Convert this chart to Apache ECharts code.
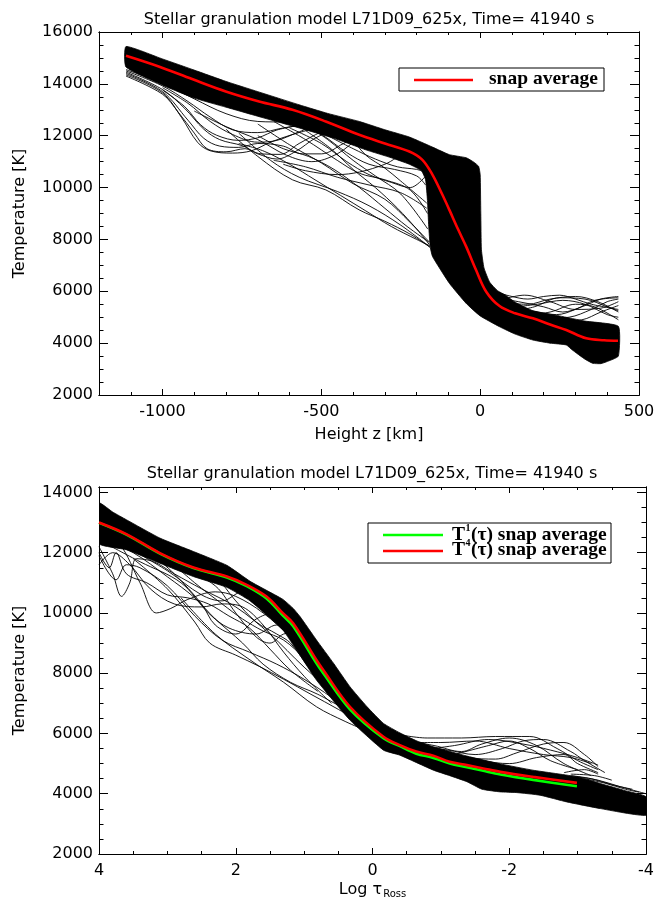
<!DOCTYPE html>
<html>
<head>
<meta charset="utf-8">
<script src="https://cdn.jsdelivr.net/npm/echarts@6/dist/echarts.min.js"></script>
<style>
  html, body { margin: 0; padding: 0; background: #fff; }
  #chart { width: 670px; height: 904px; }
</style>
</head>
<body>
<div id="chart"></div>
<script>
// ---------- Upper panel: temperature against geometric height ----------
const heightLabels = [-1000, -500, 0, 500];
const heightMinor = [-1100, -900, -800, -700, -600, -400, -300, -200, -100, 100, 200, 300, 400];
const tempLabelsTop = [2000, 4000, 6000, 8000, 10000, 12000, 14000, 16000];
const tempMinorTop = [2500, 3000, 3500, 4500, 5000, 5500, 6500, 7000, 7500, 8500, 9000, 9500,
  10500, 11000, 11500, 12500, 13000, 13500, 14500, 15000, 15500];

// snapshot average T(z)
const avgByHeight = [[-1115, 15085], [-1012, 14672], [-907, 14185], [-801, 13707], [-696, 13321],
  [-591, 13000], [-486, 12548], [-381, 12035], [-300, 11700], [-223, 11390], [-182, 11069],
  [-150, 10490], [-120, 9750], [-97, 9139], [-70, 8400], [-44, 7722], [-13, 6822], [19, 5985],
  [61, 5430], [110, 5150], [166, 4958], [220, 4720], [271, 4506], [334, 4185], [390, 4110], [434, 4093]];

// outline of the densely packed bundle of columns
const heightBundleTop = [[-1115, 15440], [-1000, 14960], [-900, 14530], [-800, 14093], [-700, 13700],
  [-570, 13193], [-480, 12860], [-380, 12548], [-300, 12230], [-223, 11950], [-150, 11560], [-97, 11270],
  [-44, 11150], [-20, 10980], [-5, 10820], [0, 10500], [2, 9000], [4, 7600], [12, 6900], [30, 6350],
  [55, 6020], [80, 5850], [110, 5580], [166, 5250], [250, 5050], [330, 4850], [435, 4650]];
const heightBundleBottom = [[-1115, 14650], [-1000, 13950], [-900, 13450], [-800, 13100], [-700, 12750],
  [-570, 12300], [-460, 11900], [-360, 11456], [-280, 11150], [-223, 10900], [-185, 10650], [-172, 10300],
  [-166, 9500], [-162, 8500], [-157, 7700], [-150, 7340], [-97, 6310], [-44, 5533], [0, 5050], [61, 4633],
  [110, 4350], [166, 4120], [220, 4000], [271, 3930], [290, 3737], [330, 3380], [355, 3220], [380, 3210],
  [398, 3282], [435, 3500]];

// individual columns that leave the bundle
const colDipA = [[-1115, 14350], [-1000, 13650], [-940, 12700], [-890, 11750], [-850, 11420], [-780, 11330],
  [-720, 11420], [-660, 11750], [-590, 12050], [-500, 12350]];
const colDipB = [[-1115, 14450], [-1000, 13780], [-930, 13050], [-870, 12250], [-820, 11850], [-750, 11620],
  [-690, 11300], [-630, 11280], [-570, 11700], [-500, 12150], [-430, 12500]];
const colDipC = [[-1000, 13850], [-920, 13250], [-850, 12550], [-780, 12050], [-700, 11750], [-640, 11820],
  [-580, 12100], [-500, 12500]];
const colDipD = [[-900, 12950], [-800, 12350], [-700, 11850], [-610, 11250], [-530, 11000], [-450, 11300],
  [-380, 11900], [-320, 12100]];
const colDipE = [[-1115, 14300], [-1000, 13600], [-950, 12900], [-900, 12100], [-860, 11500], [-800, 11380],
  [-740, 11500], [-700, 11300], [-640, 11100], [-580, 11400], [-520, 11900], [-450, 12300]];
const colDipF = [[-1115, 14400], [-1000, 13700], [-920, 12600], [-870, 11900], [-820, 11600], [-760, 11550],
  [-700, 11700], [-620, 11600], [-560, 11300], [-500, 11300], [-430, 11700], [-360, 12100]];
const colUpA = [[-1115, 14550], [-1000, 14020], [-900, 13420], [-800, 12850], [-700, 12550], [-600, 12520], [-500, 12420]];
const colUpB = [[-1115, 14500], [-1000, 13920], [-920, 13320], [-850, 12720], [-780, 12230], [-700, 12120],
  [-620, 12300], [-540, 12450]];
const colUpC = [[-1000, 13760], [-930, 13120], [-880, 12420], [-830, 12020], [-760, 11820], [-700, 11920],
  [-640, 12220], [-560, 12420]];
const colFanA = [[-800, 12250], [-700, 11200], [-591, 10300], [-486, 9910], [-381, 9140], [-300, 8700], [-220, 8200], [-158, 7700]];
const colFanB = [[-760, 12100], [-660, 11050], [-570, 10400], [-450, 9850], [-350, 9300], [-250, 8550], [-158, 7700]];
const colFanC = [[-700, 12450], [-600, 11650], [-500, 10950], [-400, 10150], [-300, 9550], [-220, 8650], [-160, 7900]];
const colFanD = [[-650, 12550], [-550, 11850], [-450, 11050], [-380, 10550], [-300, 10300], [-220, 9900], [-166, 9000]];
const colFanE = [[-600, 12650], [-500, 12050], [-420, 11350], [-350, 10900], [-270, 10700], [-200, 10450], [-172, 10100]];
const colFanF = [[-560, 12500], [-480, 11850], [-400, 11050], [-330, 10450], [-250, 9750], [-165, 8400]];
const colFanG = [[-500, 12450], [-420, 12050], [-360, 11250], [-300, 10750], [-250, 10250], [-168, 9400]];
const colFanH = [[-650, 11050], [-550, 10800], [-450, 10400], [-350, 10100], [-250, 9800], [-168, 9200]];
const colMidA = [[-600, 12300], [-500, 11700], [-420, 11000], [-350, 10500], [-280, 10200], [-220, 10000], [-175, 10400]];
const colMidB = [[-550, 12200], [-470, 11500], [-400, 10700], [-330, 10000], [-260, 9200], [-200, 8400], [-160, 7800]];
const colMidC = [[-700, 12000], [-620, 11500], [-540, 11200], [-460, 10700], [-380, 10000], [-300, 9200], [-230, 8500], [-162, 7900]];
const colMidD = [[-480, 12000], [-400, 11500], [-330, 11100], [-260, 10800], [-200, 10700], [-175, 10600]];
const colMidE = [[-760, 11700], [-680, 11400], [-600, 10900], [-520, 10300], [-440, 9700], [-360, 9100], [-280, 8500],
  [-200, 8000], [-158, 7750]];
const colRise = [[-620, 10900], [-550, 10650], [-450, 10500], [-380, 10600], [-300, 10900], [-230, 11300], [-180, 11000]];
const colMeshA = [[40, 6000], [100, 5800], [150, 5700], [200, 5800], [250, 5850], [300, 5700], [350, 5500], [435, 5300]];
const colMeshB = [[50, 5750], [120, 5600], [200, 5400], [260, 5200], [320, 5400], [380, 5700], [435, 5800]];
const colMeshC = [[60, 5550], [150, 5500], [220, 5700], [300, 5800], [370, 5600], [435, 5200]];
const colMeshD = [[70, 5450], [160, 5250], [240, 5100], [300, 5300], [360, 5650], [435, 5750]];
const colMeshE = [[80, 5350], [180, 5500], [260, 5650], [330, 5500], [400, 5100], [435, 5000]];
const colMeshF = [[100, 5150], [200, 4950], [280, 5000], [350, 5300], [400, 5600], [435, 5700]];
const colMeshG = [[120, 5050], [220, 5200], [300, 5500], [360, 5400], [435, 4900]];
const colMeshH = [[150, 5000], [250, 4850], [320, 4900], [380, 5200], [435, 5450]];
const colMeshI = [[60, 5650], [140, 5850], [220, 5600], [300, 5300], [380, 5350], [435, 5600]];
const colMeshJ = [[90, 5200], [170, 5400], [250, 5750], [330, 5700], [400, 5400], [435, 5250]];

// ---------- Lower panel: temperature against Rosseland optical depth ----------
const tauLabels = [4, 2, 0, -2, -4];
const tauMinor = [3.5, 3, 2.5, 1.5, 1, 0.5, -0.5, -1, -1.5, -2.5, -3, -3.5];
const tempLabelsBottom = [2000, 4000, 6000, 8000, 10000, 12000, 14000];
const tempMinorBottom = [2500, 3000, 3500, 4500, 5000, 5500, 6500, 7000, 7500, 8500, 9000, 9500,
  10500, 11000, 11500, 12500, 13000, 13500];

// T^1 and T^4 averages on surfaces of constant optical depth
const avgT1 = [[4, 12990], [3.6, 12600], [3.11, 11970], [2.62, 11490], [2.13, 11180], [1.84, 10890],
  [1.55, 10480], [1.31, 9910], [1.16, 9560], [0.82, 8330], [0.72, 8000], [0.33, 6800], [-0.16, 5840],
  [-0.4, 5580], [-0.64, 5330], [-0.89, 5190], [-1.13, 5000], [-1.38, 4880], [-1.62, 4760], [-1.87, 4640],
  [-2.35, 4460], [-2.99, 4250]];
const avgT4 = [[4, 13004], [3.6, 12618], [3.11, 11987], [2.62, 11508], [2.13, 11209], [1.84, 10933],
  [1.55, 10544], [1.31, 9992], [1.16, 9659], [0.82, 8440], [0.72, 8107], [0.33, 6887], [-0.16, 5890],
  [-0.4, 5614], [-0.64, 5400], [-0.89, 5260], [-1.13, 5060], [-1.38, 4950], [-1.62, 4840], [-1.87, 4726],
  [-2.35, 4560], [-2.99, 4360]];

const tauBundleTop = [[4, 13650], [3.8, 13350], [3.6, 13094], [3.11, 12485], [2.62, 12040], [2.13, 11580],
  [1.79, 11050], [1.55, 10750], [1.31, 10450], [1.16, 10150], [1.06, 9880], [0.82, 9104], [0.57, 8330],
  [0.33, 7552], [0.08, 6887], [-0.16, 6335], [-0.4, 6020], [-0.65, 5750], [-0.89, 5560], [-1.38, 5250],
  [-1.87, 4990], [-2.35, 4780], [-3.0, 4560], [-3.33, 4340], [-3.7, 4100], [-4, 3900]];
const tauBundleBottom = [[4, 12300], [3.6, 12097], [3.11, 11650], [2.62, 11209], [2.13, 10850], [1.79, 10400],
  [1.31, 9430], [0.82, 7775], [0.33, 6445], [-0.16, 5447], [-0.4, 5280], [-0.89, 4783], [-1.13, 4600],
  [-1.38, 4400], [-1.6, 4150], [-1.87, 4061], [-2.1, 4040], [-2.45, 3951], [-2.84, 3729], [-3.33, 3508], [-4, 3287]];

const tauColA = [[4, 12200], [3.8, 11300], [3.67, 10550], [3.55, 11000], [3.45, 11800], [3.2, 11700], [2.9, 11300],
  [2.5, 10800], [2.0, 10200], [1.5, 9300], [1.0, 8200], [0.5, 7200], [0.2, 6600]];
const tauColB = [[4, 12800], [3.7, 12300], [3.4, 11000], [3.16, 10000], [2.95, 10150], [2.7, 10450], [2.3, 10700],
  [2.0, 10550], [1.6, 10000], [1.2, 9200], [0.8, 8300], [0.4, 7300]];
const tauColC = [[4, 11900], [3.75, 11100], [3.6, 11600], [3.4, 11500], [3.0, 10900], [2.6, 9900], [2.2, 9100],
  [1.8, 8700], [1.4, 8300], [1.0, 7800], [0.6, 7200], [0.2, 6500]];
const tauColD = [[4, 12500], [3.5, 12000], [3.0, 11200], [2.6, 10500], [2.3, 9800], [1.9, 9000], [1.6, 8300],
  [1.2, 7700], [0.8, 7300], [0.4, 6800]];
const tauColE = [[3.9, 12300], [3.4, 11700], [2.8, 11000], [2.4, 10000], [2.1, 9500], [1.7, 9300], [1.4, 9600],
  [1.1, 9400], [0.8, 8700]];
const tauColF = [[3.6, 12200], [3.0, 11400], [2.5, 10600], [2.2, 10400], [1.9, 10700], [1.6, 10500], [1.3, 9800], [1.0, 8900]];
const tauColG = [[3.3, 12000], [2.8, 11500], [2.3, 10900], [2.0, 10000], [1.7, 9200], [1.5, 9000], [1.3, 9300],
  [1.0, 9400], [0.7, 8600]];
const tauColH = [[3.0, 11800], [2.6, 11000], [2.2, 10300], [1.9, 9800], [1.6, 9400], [1.3, 9100], [1.0, 8500], [0.6, 7600]];
const tauColI = [[2.8, 11400], [2.4, 11100], [2.0, 10800], [1.7, 10300], [1.4, 9900], [1.1, 9300], [0.8, 8300]];
const tauColJ = [[2.5, 11200], [2.1, 10900], [1.8, 10500], [1.5, 10000], [1.2, 9600], [0.9, 9200], [0.6, 8000]];
const tauColK = [[3.5, 11800], [3.0, 10800], [2.6, 9700], [2.38, 9000], [2.0, 8600], [1.65, 8220], [1.3, 7800],
  [0.9, 7300], [0.5, 6800], [0.2, 6400]];
const tauColL = [[2.8, 10500], [2.3, 9300], [1.79, 8440], [1.3, 7700], [0.82, 6887], [0.4, 6400], [0.1, 6100]];
const tauColM = [[4, 12000], [3.85, 11500], [3.75, 12000], [3.6, 11300], [3.3, 11000], [3.0, 10600], [2.7, 10500],
  [2.4, 10300], [2.1, 9900], [1.8, 9500], [1.5, 8800], [1.2, 8100], [0.8, 7400]];
const tauColN = [[4, 11600], [3.8, 12000], [3.55, 11600], [3.25, 10800], [2.9, 10300], [2.5, 10200], [2.2, 10300],
  [1.9, 10200], [1.6, 9600], [1.3, 8700], [1.0, 7900], [0.6, 7000]];
const tauColO = [[3.2, 11900], [2.9, 11300], [2.5, 10300], [2.3, 9600], [2.0, 9300], [1.7, 9800], [1.45, 10000],
  [1.2, 9500], [0.9, 8700]];
const tauColP = [[2.6, 11500], [2.3, 11200], [2.0, 10400], [1.7, 9700], [1.4, 9300], [1.2, 9000], [0.9, 8100], [0.6, 7400]];
const tauColQ = [[3.8, 12700], [3.3, 12200], [2.9, 11700], [2.4, 11300], [2.0, 11000], [1.7, 10700], [1.5, 10300], [1.2, 9700]];
const tauMeshA = [[-0.3, 6000], [-0.8, 5850], [-1.3, 5850], [-1.8, 5900], [-2.3, 5900], [-2.7, 5500], [-3.0, 5100], [-3.3, 4800]];
const tauMeshB = [[-0.4, 5800], [-0.9, 5600], [-1.3, 5400], [-1.6, 5650], [-2.0, 5850], [-2.4, 5600], [-2.8, 5000], [-3.2, 4600]];
const tauMeshC = [[-0.6, 5600], [-1.1, 5450], [-1.5, 5300], [-1.9, 5500], [-2.2, 5750], [-2.5, 5800], [-2.9, 5400],
  [-3.1, 5100], [-3.4, 4700]];
const tauMeshD = [[-0.8, 5500], [-1.4, 5200], [-1.8, 5150], [-2.1, 5350], [-2.5, 5650], [-2.8, 5700], [-3.1, 5300], [-3.3, 4900]];
const tauMeshE = [[-1.0, 5400], [-1.6, 5100], [-2.0, 5000], [-2.4, 5200], [-2.8, 5300], [-3.0, 5000], [-3.3, 4700]];
const tauMeshF = [[-1.2, 5300], [-1.7, 5600], [-2.0, 5750], [-2.3, 5500], [-2.6, 5100], [-3.0, 4800]];
const tauMeshG = [[-0.5, 5700], [-1.0, 5700], [-1.5, 5750], [-2.0, 5500], [-2.5, 5300], [-2.9, 5200], [-3.2, 5000]];
const tauMeshH = [[-0.7, 5450], [-1.2, 5600], [-1.7, 5800], [-2.2, 5650], [-2.6, 5450], [-3.0, 5200], [-3.3, 4950]];
const tauTailA = [[-3.0, 4560], [-3.3, 4450], [-3.6, 4250], [-4, 4000]];
const tauTailB = [[-3.1, 4500], [-3.4, 4350], [-3.7, 4150], [-3.9, 4050]];
const tauTailC = [[-2.9, 4600], [-3.2, 4500], [-3.5, 4300], [-3.8, 4150]];
const tauTailD = [[-2.8, 4700], [-3.1, 4800], [-3.3, 4650]];
const tauTailE = [[-2.9, 4650], [-3.25, 4600], [-3.5, 4450]];

const titleText = 'Stellar granulation model L71D09_625x, Time= 41940 s';

// ---------- helpers ----------
const SANS = 'DejaVu Sans';
const SERIF = 'Liberation Serif';
const tickFont = { fontFamily: SANS, fontSize: 16, color: '#000' };

function frameAxis(grid, position, min, max, inverse, values, len, extra) {
  const ax = {
    type: 'value', gridIndex: grid, position, min, max, inverse: !!inverse,
    axisLine: { show: true, onZero: false, lineStyle: { color: '#000', width: 1 } },
    splitLine: { show: false },
    axisTick: { show: true, inside: true, length: len, customValues: values, lineStyle: { color: '#000', width: 1 } },
    axisLabel: { show: false }
  };
  return Object.assign(ax, extra || {});
}

function xAxesFor(grid, min, max, inverse, labels, minor, majLen, minLen, nameExtra) {
  return [
    frameAxis(grid, 'bottom', min, max, inverse, labels, majLen, Object.assign({
      axisLabel: { show: true, customValues: labels, margin: 9, formatter: v => String(v), ...tickFont }
    }, nameExtra)),
    frameAxis(grid, 'bottom', min, max, inverse, minor, minLen),
    frameAxis(grid, 'top', min, max, inverse, labels, majLen),
    frameAxis(grid, 'top', min, max, inverse, minor, minLen)
  ];
}

function yAxesFor(grid, min, max, labels, minor, majLen, minLen) {
  return [
    frameAxis(grid, 'left', min, max, false, labels, majLen, {
      axisLabel: { show: true, customValues: labels, margin: 6, formatter: v => String(v), ...tickFont },
      name: 'Temperature [K]', nameLocation: 'middle', nameGap: 71, nameRotate: 90,
      nameTextStyle: { fontFamily: SANS, fontSize: 16, color: '#000' }
    }),
    frameAxis(grid, 'left', min, max, false, minor, minLen),
    frameAxis(grid, 'right', min, max, false, labels, majLen),
    frameAxis(grid, 'right', min, max, false, minor, minLen)
  ];
}

function column(data, xi, yi) {
  return {
    type: 'line', xAxisIndex: xi, yAxisIndex: yi, data, symbol: 'none', smooth: 0.35,
    lineStyle: { color: '#000', width: 0.9 }, silent: true, animation: false, z: 3
  };
}

function bundle(top, bottom, xi, yi) {
  const outline = top.concat(bottom.slice().reverse());
  return {
    type: 'custom', xAxisIndex: xi, yAxisIndex: yi, data: [outline[0]], clip: true, silent: true,
    animation: false, z: 2,
    renderItem: (params, api) => ({
      type: 'polygon',
      shape: { points: outline.map(p => api.coord(p)), smooth: 0.15 },
      style: { fill: '#000', stroke: '#000', lineWidth: 0.8 }
    })
  };
}

function average(data, color, xi, yi, z) {
  return {
    type: 'line', xAxisIndex: xi, yAxisIndex: yi, data, symbol: 'none', smooth: 0.35,
    lineStyle: { color, width: 2.6 }, silent: true, animation: false, z
  };
}

const heightColumns = [colDipA, colDipB, colDipC, colDipD, colDipE, colDipF, colUpA, colUpB, colUpC,
  colFanA, colFanB, colFanC, colFanD, colFanE, colFanF, colFanG, colFanH, colMidA, colMidB, colMidC, colMidD,
  colMidE, colRise, colMeshA, colMeshB, colMeshC, colMeshD, colMeshE, colMeshF, colMeshG, colMeshH, colMeshI, colMeshJ];
const tauColumns = [tauColA, tauColB, tauColC, tauColD, tauColE, tauColF, tauColG, tauColH, tauColI, tauColJ,
  tauColK, tauColL, tauColM, tauColN, tauColO, tauColP, tauColQ, tauMeshA, tauMeshB, tauMeshC, tauMeshD,
  tauMeshE, tauMeshF, tauMeshG, tauMeshH, tauTailA, tauTailB, tauTailC, tauTailD, tauTailE];

const chart = echarts.init(document.getElementById('chart'), null, { renderer: 'canvas' });

chart.setOption({
  backgroundColor: '#fff',
  animation: false,
  grid: [
    { left: 99, right: 31, top: 32, height: 363 },
    { left: 99, right: 24, top: 487, height: 367 }
  ],
  xAxis: [
    ...xAxesFor(0, -1200, 500, false, heightLabels, heightMinor, 6, 3, {
      name: 'Height z [km]', nameLocation: 'middle', nameGap: 32,
      nameTextStyle: { fontFamily: SANS, fontSize: 16, color: '#000' }
    }),
    ...xAxesFor(1, -4, 4, true, tauLabels, tauMinor, 6, 3, {
      name: '{a|Log τ}{b|Ross}', nameLocation: 'middle', nameGap: 26,
      nameTextStyle: {
        rich: {
          a: { fontFamily: SANS, fontSize: 16, color: '#000' },
          b: { fontFamily: SANS, fontSize: 10, color: '#000', padding: [9, 0, 0, 1] }
        }
      }
    })
  ],
  yAxis: [
    ...yAxesFor(0, 2000, 16000, tempLabelsTop, tempMinorTop, 9, 4.5),
    ...yAxesFor(1, 2000, 14180, tempLabelsBottom, tempMinorBottom, 9, 4.5)
  ],
  series: [
    bundle(heightBundleTop, heightBundleBottom, 0, 0),
    ...heightColumns.map(c => column(c, 0, 0)),
    average(avgByHeight, '#ff0000', 0, 0, 6),
    bundle(tauBundleTop, tauBundleBottom, 4, 4),
    ...tauColumns.map(c => column(c, 4, 4)),
    average(avgT1, '#00ff00', 4, 4, 6),
    average(avgT4, '#ff0000', 4, 4, 7)
  ],
  graphic: [
    { type: 'text', x: 369, y: 20, z: 50,
      style: { text: titleText, fill: '#000', fontFamily: SANS, fontSize: 16, align: 'center', verticalAlign: 'middle' } },
    { type: 'text', x: 372, y: 474, z: 50,
      style: { text: titleText, fill: '#000', fontFamily: SANS, fontSize: 16, align: 'center', verticalAlign: 'middle' } },
    // legend of the upper panel
    { type: 'rect', z: 50, shape: { x: 399, y: 68, width: 205, height: 23 },
      style: { fill: '#fff', stroke: '#000', lineWidth: 1 } },
    { type: 'line', z: 51, shape: { x1: 414, y1: 80, x2: 473, y2: 80 },
      style: { stroke: '#ff0000', lineWidth: 2.6 } },
    { type: 'text', x: 489, y: 79, z: 51,
      style: { text: 'snap average', fill: '#000', fontFamily: SERIF, fontWeight: 'bold', fontSize: 19.5,
        align: 'left', verticalAlign: 'middle' } },
    // legend of the lower panel
    { type: 'rect', z: 50, shape: { x: 368, y: 523, width: 243, height: 40 },
      style: { fill: '#fff', stroke: '#000', lineWidth: 1 } },
    { type: 'line', z: 51, shape: { x1: 383, y1: 535, x2: 443, y2: 535 },
      style: { stroke: '#00ff00', lineWidth: 2.6 } },
    { type: 'line', z: 51, shape: { x1: 383, y1: 551, x2: 443, y2: 551 },
      style: { stroke: '#ff0000', lineWidth: 2.6 } },
    { type: 'text', x: 452, y: 535, z: 51,
      style: { text: 'T', fill: '#000', fontFamily: SERIF, fontWeight: 'bold', fontSize: 19.5, align: 'left', verticalAlign: 'middle' } },
    { type: 'text', x: 465.5, y: 528, z: 51,
      style: { text: '1', fill: '#000', fontFamily: SERIF, fontWeight: 'bold', fontSize: 10, align: 'left', verticalAlign: 'middle' } },
    { type: 'text', x: 471, y: 535, z: 51,
      style: { text: '(τ) snap average', fill: '#000', fontFamily: SERIF, fontWeight: 'bold', fontSize: 19.5, align: 'left', verticalAlign: 'middle' } },
    { type: 'text', x: 452, y: 550, z: 52,
      style: { text: 'T', fill: '#000', fontFamily: SERIF, fontWeight: 'bold', fontSize: 19.5, align: 'left', verticalAlign: 'middle' } },
    { type: 'text', x: 465.5, y: 543, z: 52,
      style: { text: '4', fill: '#000', fontFamily: SERIF, fontWeight: 'bold', fontSize: 10, align: 'left', verticalAlign: 'middle' } },
    { type: 'text', x: 471, y: 550, z: 52,
      style: { text: '(τ) snap average', fill: '#000', fontFamily: SERIF, fontWeight: 'bold', fontSize: 19.5, align: 'left', verticalAlign: 'middle' } }
  ]
});
</script>
</body>
</html>
